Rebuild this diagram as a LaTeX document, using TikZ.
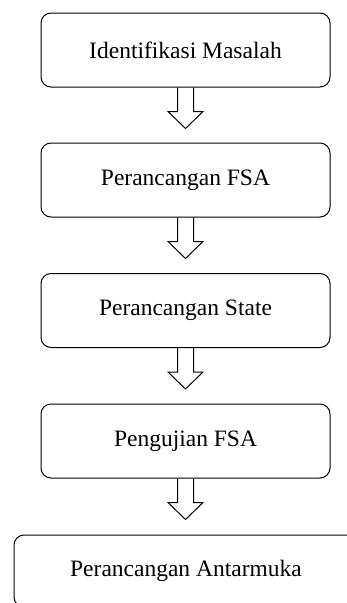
\documentclass[tikz,border=0pt]{standalone}
\usepackage{fontspec}
\setmainfont{Liberation Serif}
\usetikzlibrary{calc}
\begin{document}
\begin{tikzpicture}[x=1pt,y=-1pt,
  stepbox/.style={draw, line width=1pt, rounded corners=10pt, rectangle,
    minimum width=289pt, minimum height=74pt, inner sep=0pt,
    font=\fontsize{23.5}{28}\selectfont},
  blockarrow/.style={draw, line width=1pt, line join=miter}]
\clip (0,0) rectangle (347,603);
\fill[white] (0,0) rectangle (347,603);
\node[stepbox] (a) at (185.5,50) {Identifikasi Masalah};
\node[stepbox] (b) at (185.5,180) {Perancangan FSA};
\node[stepbox] (c) at (185.5,310.5) {Perancangan State};
\node[stepbox] (d) at (185.5,441) {Pengujian FSA};
\node[stepbox, minimum width=344pt, minimum height=72pt] (e) at (186,571) {Perancangan Antarmuka};
\foreach \s in {a,b,c,d}{
  \draw[blockarrow] ($(\s.south)+(-8,0)$) -- ++(0,24) -- ++(-9.5,0)
    -- ($(\s.south)+(0,41)$) -- ($(\s.south)+(17.5,24)$) -- ++(-9.5,0) -- ($(\s.south)+(8,0)$);
}
\end{tikzpicture}
\end{document}
